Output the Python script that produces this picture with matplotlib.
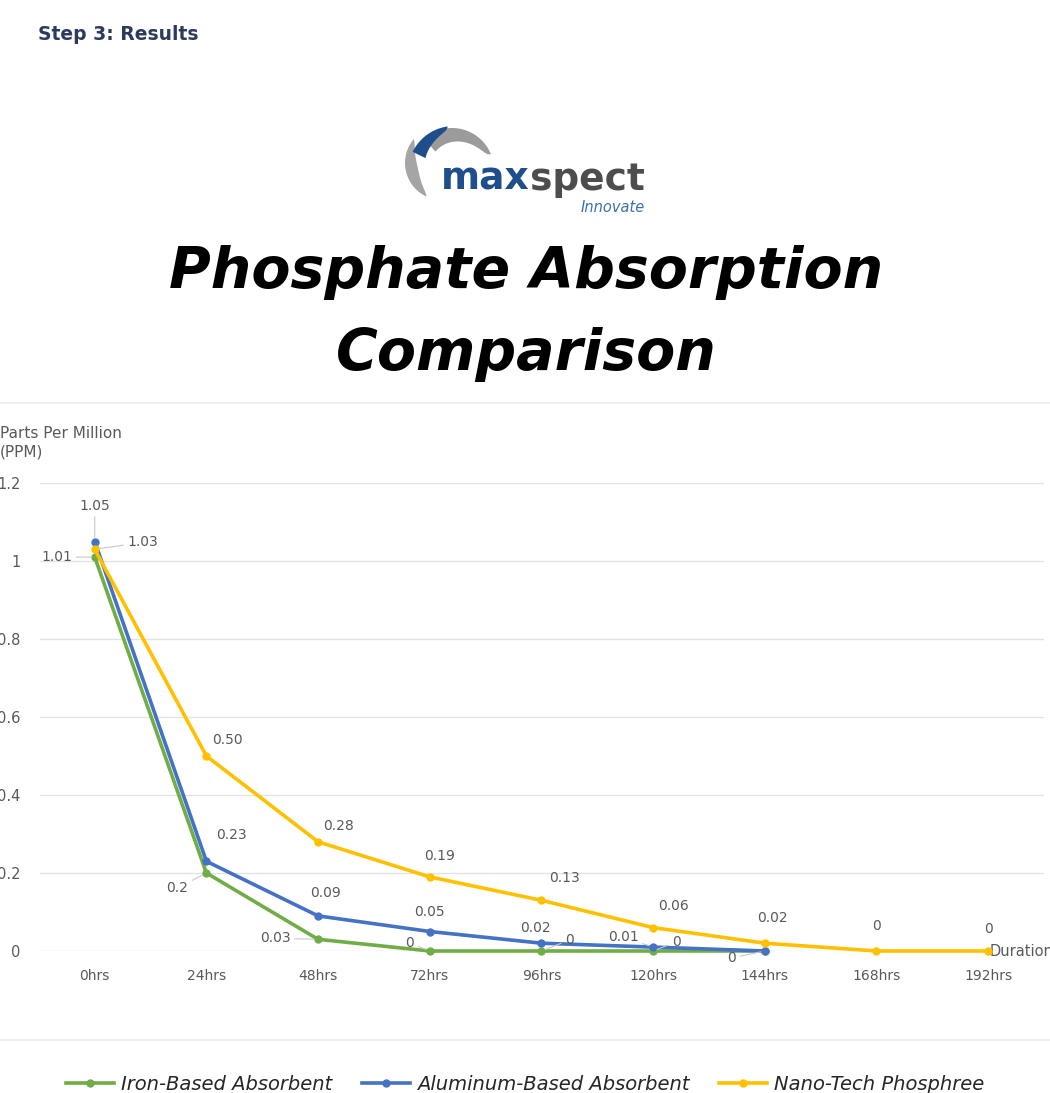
import matplotlib
matplotlib.use('Agg')
import matplotlib.pyplot as plt
from matplotlib.patches import Polygon
import numpy as np

plt.rcParams['font.family'] = ['DejaVu Sans']

# data
durations = ['0hrs', '24hrs', '48hrs', '72hrs', '96hrs', '120hrs', '144hrs', '168hrs', '192hrs']
iron = [1.01, 0.2, 0.03, 0, 0, 0, 0]
aluminum = [1.05, 0.23, 0.09, 0.05, 0.02, 0.01, 0]
nano = [1.03, 0.50, 0.28, 0.19, 0.13, 0.06, 0.02, 0, 0]
series_names = ['Iron-Based Absorbent', 'Aluminum-Based Absorbent', 'Nano-Tech Phosphree']
y_ticks = [0, 0.2, 0.4, 0.6, 0.8, 1, 1.2]
y_ticklabels = ['0', '0.2', '0.4', '0.6', '0.8', '1', '1.2']

colors = ['#70AD47', '#4472C4', '#FFC000']

# label offsets in pixels (dx, dy up), None = no label
iron_off = [(-38, 0), (-29, -15), (-43, 1), (-20, 8), (28, 11), (23, 9), (-33, -7)]
iron_lead = [True, True, True, True, True, True, True]
alu_off = [(0, 36), (25, 26), (7, 23), (0, 20), (-6, 15), (-30, 10), None]
alu_lead = [True, False, False, False, False, True, False]
nano_off = [(48, 7), (21, 16), (20, 16), (10, 21), (23, 22), (20, 22), (8, 25), (0, 25), (0, 22)]
nano_lead = [True, False, False, False, False, False, False, False, False]


def fmt_g(v):
    return '%g' % v


def fmt_2(v):
    return '0' if v == 0 else '%.2f' % v


fig = plt.figure(figsize=(10.5, 10.93), dpi=100)

# overlay in pixel coords for decoration
deco = fig.add_axes([0, 0, 1, 1], zorder=0)
deco.set_xlim(0, 1050)
deco.set_ylim(1093, 0)
deco.axis('off')
deco.plot([0, 1050], [403, 403], color='#ebebeb', lw=1.2)
deco.plot([0, 1050], [1040, 1040], color='#ebebeb', lw=1.2)


def blade(c, R, a0, a1, w, color, z=1):
    # arc shaped blade, w = thickness along the arc
    t = np.radians(np.linspace(a0, a1, len(w)))
    outer = np.column_stack([c[0] + R * np.cos(t), c[1] - R * np.sin(t)])
    rin = R - np.asarray(w)
    inner = np.column_stack([c[0] + rin * np.cos(t), c[1] - rin * np.sin(t)])
    deco.add_patch(Polygon(np.vstack([outer, inner[::-1]]), closed=True,
                           color=color, lw=0, zorder=z))


s = np.linspace(0, 1, 50)
# logo swooshes
blade((452, 170), 42, 132, 22, 17 * (1 - s) ** 0.45 + 0.3, '#9b9b9b', 1)
blade((454, 172), 46, 154, 98, 14 * (1 - s) ** 0.5 + 0.3, '#1f4e8c', 2)
blade((442, 163), 37, 140, 245, 12 * np.sin(np.pi * s) ** 0.7 + 0.3, '#a5a5a5', 1)

fig.text(530, 1093 - 190, 'max', transform=None, fontsize=27, fontweight='bold',
         color='#1f4e8c', ha='right', va='baseline')
fig.text(530, 1093 - 190, 'spect', transform=None, fontsize=27, fontweight='bold',
         color='#4d4d4d', ha='left', va='baseline')
fig.text(645, 1093 - 208, 'Innovate', transform=None, fontsize=10.5, style='italic',
         color='#3d6fb5', ha='right', va='center')

fig.text(38 / 1050, 1 - 35 / 1093, 'Step 3: Results', fontsize=13.5, fontweight='bold',
         color='#2b3a5e', ha='left', va='center')

fig.text(526 / 1050, 1 - 272 / 1093, 'Phosphate Absorption', fontsize=41,
         fontweight='bold', style='italic', ha='center', va='center', color='black')
fig.text(526 / 1050, 1 - 355 / 1093, 'Comparison', fontsize=41,
         fontweight='bold', style='italic', ha='center', va='center', color='black')

fig.text(0, 1 - 443 / 1093, 'Parts Per Million\n(PPM)', fontsize=11, color='#595959',
         ha='left', va='center', linespacing=1.25)

# chart
ax = fig.add_axes([40 / 1050, 1 - 951 / 1093, 1004 / 1050, (951 - 483) / 1093], zorder=2)
ax.patch.set_alpha(0)
x = np.arange(len(durations))
ax.set_xlim(-0.49, 8.5)
ax.set_ylim(0, 1.2)
ax.set_yticks(y_ticks)
ax.set_yticklabels(y_ticklabels)
ax.set_xticks(x)
ax.set_xticklabels(durations)
ax.tick_params(axis='y', length=0, pad=14, labelsize=10.5, labelcolor='#595959')
ax.tick_params(axis='x', length=0, pad=13, labelsize=10, labelcolor='#595959')
for sp in ax.spines.values():
    sp.set_visible(False)
ax.grid(axis='y', color='#e3e3e3', lw=1)
ax.set_axisbelow(True)

all_series = [(iron, iron_off, iron_lead, fmt_g), (aluminum, alu_off, alu_lead, fmt_2),
              (nano, nano_off, nano_lead, fmt_2)]
handles = []
for i, (vals, offs, leads, fmt) in enumerate(all_series):
    xs = x[:len(vals)]
    h, = ax.plot(xs, vals, color=colors[i], lw=2.6, marker='o', markersize=5,
                 clip_on=False, zorder=3 + i, label=series_names[i])
    handles.append(h)
    for xi, v, off, lead in zip(xs, vals, offs, leads):
        if off is None:
            continue
        props = dict(arrowstyle='-', color='#c8c8c8', lw=0.8, shrinkA=1, shrinkB=3) if lead else None
        ax.annotate(fmt(v), (xi, v), xytext=off, textcoords='offset pixels',
                    ha='center', va='center', fontsize=10, color='#595959',
                    arrowprops=props, annotation_clip=False, zorder=10)

ax.text(8.5 - 0.49, 0, 'Duration', transform=ax.transData, fontsize=10.5,
        color='#595959', ha='left', va='center', clip_on=False)

leg = fig.legend(handles=handles, loc='center', bbox_to_anchor=(0.5, 1 - 1084 / 1093),
                 ncol=3, frameon=False, handlelength=2.5, handletextpad=0.35,
                 columnspacing=1.5, prop={'size': 14, 'style': 'italic'})
for t in leg.get_texts():
    t.set_color('#262626')

fig.savefig('out.png', dpi=100)
